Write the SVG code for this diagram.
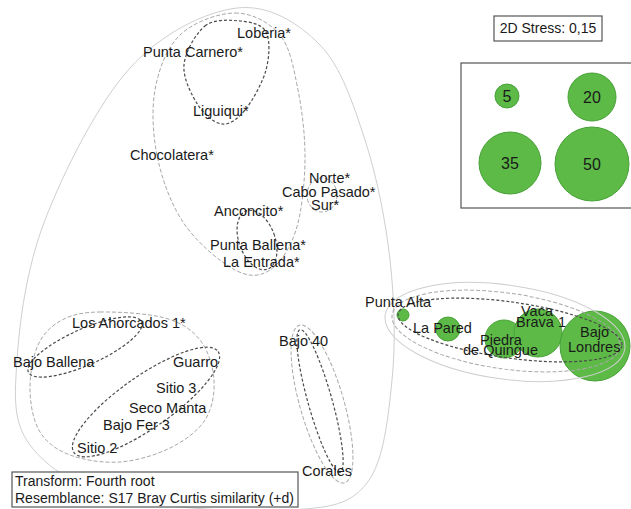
<svg xmlns="http://www.w3.org/2000/svg" width="631" height="509" viewBox="0 0 631 509">
<style>
text{font-family:"Liberation Sans",Arial,sans-serif;font-size:14.5px;fill:#1a1a1a}
.leg{font-size:16px;text-anchor:middle}
.box{font-size:14px}
.solid{fill:none;stroke:#cfcfcf;stroke-width:1}
.light{fill:none;stroke:#a8a8a8;stroke-width:1;stroke-dasharray:4 2}
.dark{fill:none;stroke:#4a4a4a;stroke-width:1.2;stroke-dasharray:3 2}
.bub{fill:#5dba47;stroke:#47a137;stroke-width:1}
.frame{fill:#fff;stroke:#555;stroke-width:1.2}
</style>
<rect width="631" height="509" fill="#fff"/>

<g id="bubbles">
<circle class="bub" cx="403" cy="315" r="6"/>
<circle class="bub" cx="448" cy="329" r="12"/>
<circle class="bub" cx="504" cy="339" r="19"/>
<circle class="bub" cx="538" cy="333" r="24"/>
<circle class="bub" cx="595" cy="346" r="35"/>
</g>

<g id="contours">
<path class="solid" d="M237,8 C268.7,4.2 298.7,23 320,45 C341.3,67 353.3,104.2 365,140 C376.7,175.8 385.5,220 390,260 C394.5,300 395.8,342.8 392,380 C388.2,417.2 384,461.3 367,483 C350,504.7 331.2,507.5 290,510 C248.8,512.5 163.3,508.8 120,498 C76.7,487.2 47.2,468 30,445 C12.8,422 14.5,397.5 17,360 C19.5,322.5 26.2,268.7 45,220 C63.8,171.3 98,103.3 130,68 C162,32.7 205.3,11.8 237,8 Z"/>
<path class="light" d="M235,13 C251.7,13 269.5,22.2 280,35 C290.5,47.8 293.8,69.2 298,90 C302.2,110.8 305.3,136.7 305,160 C304.7,183.3 301.8,211.7 296,230 C290.2,248.3 280.2,263.3 270,270 C259.8,276.7 249.2,277.5 235,270 C220.8,262.5 197.8,243.3 185,225 C172.2,206.7 163,182.5 158,160 C153,137.5 151.3,110.8 155,90 C158.7,69.2 166.7,47.8 180,35 C193.3,22.2 218.3,13 235,13 Z"/>
<path class="dark" d="M205,26 C214.3,18.7 229.8,20 240,21 C250.2,22 261.7,23.8 266,32 C270.3,40.2 269.5,57 266,70 C262.5,83 252.3,101 245,110 C237.7,119 229.8,124.8 222,124 C214.2,123.2 204.3,114.8 198,105 C191.7,95.2 182.8,78.2 184,65 C185.2,51.8 195.7,33.3 205,26 Z"/>
<ellipse class="dark" cx="257" cy="240" rx="18" ry="31" transform="rotate(-20 257 240)"/>
<ellipse class="light" cx="322" cy="195" rx="15" ry="17"/>
<path class="light" d="M100,312 C117.2,311.7 148.3,313.3 165,318 C181.7,322.7 191.8,329.7 200,340 C208.2,350.3 213.2,366.7 214,380 C214.8,393.3 212.3,408.7 205,420 C197.7,431.3 184.2,441 170,448 C155.8,455 136.7,460.8 120,462 C103.3,463.2 83.3,460 70,455 C56.7,450 46.7,442.8 40,432 C33.3,421.2 30.3,404.5 30,390 C29.7,375.5 32.7,356.7 38,345 C43.3,333.3 51.7,325.5 62,320 C72.3,314.5 82.8,312.3 100,312 Z"/>
<ellipse class="dark" cx="85" cy="347" rx="62" ry="18" transform="rotate(-24 85 347)"/>
<ellipse class="dark" cx="146" cy="402" rx="88" ry="26" transform="rotate(-35 146 402)"/>
<ellipse class="light" cx="322" cy="404" rx="82" ry="22" transform="rotate(74 322 404)"/>
<ellipse class="dark" cx="320" cy="401" rx="74" ry="12" transform="rotate(74.3 320 401)"/>
<ellipse class="solid" cx="505" cy="332" rx="121" ry="47" transform="rotate(8 505 332)"/>
<ellipse class="light" cx="506" cy="331" rx="115" ry="38" transform="rotate(8 506 331)"/>
<ellipse class="dark" cx="510" cy="330" rx="113" ry="28" transform="rotate(8 510 330)"/>
</g>

<g id="n-loberia"><text x="237" y="38">Loberia*</text></g>
<g id="n-punta-carnero"><text x="143" y="57">Punta Carnero*</text></g>
<g id="n-liguiqui"><text x="193" y="116">Liguiqui*</text></g>
<g id="n-chocolatera"><text x="130" y="160">Chocolatera*</text></g>
<g id="n-norte"><text x="309" y="183">Norte*</text></g>
<g id="n-cabo-pasado"><text x="282" y="197">Cabo Pasado*</text></g>
<g id="n-sur"><text x="311" y="210">Sur*</text></g>
<g id="n-anconcito"><text x="214" y="216">Anconcito*</text></g>
<g id="n-punta-ballena"><text x="210" y="250">Punta Ballena*</text></g>
<g id="n-la-entrada"><text x="223" y="267">La Entrada*</text></g>
<g id="n-punta-alta"><text x="365" y="307">Punta Alta</text></g>
<g id="n-la-pared"><text x="413" y="333">La Pared</text></g>
<g id="n-vaca-brava"><text x="521" y="316">Vaca</text><text x="516" y="327">Brava 1</text></g>
<g id="n-piedra"><text x="480" y="345">Piedra</text><text x="463" y="355">de Quingue</text></g>
<g id="n-bajo-londres"><text x="580" y="337">Bajo</text><text x="568" y="352">Londres</text></g>
<g id="n-los-ahorcados"><text x="72" y="328">Los Ahorcados 1*</text></g>
<g id="n-bajo-ballena"><text x="13" y="367">Bajo Ballena</text></g>
<g id="n-guarro"><text x="173" y="367">Guarro</text></g>
<g id="n-sitio3"><text x="156" y="393">Sitio 3</text></g>
<g id="n-seco-manta"><text x="129" y="413">Seco Manta</text></g>
<g id="n-bajo-fer3"><text x="103" y="430">Bajo Fer 3</text></g>
<g id="n-sitio2"><text x="77" y="453">Sitio 2</text></g>
<g id="n-bajo40"><text x="279" y="346">Bajo 40</text></g>
<g id="n-corales"><text x="302" y="476">Corales</text></g>

<g id="info-box">
<rect class="frame" x="12" y="472" width="286" height="35"/>
<text class="box" x="15" y="486">Transform: Fourth root</text>
<text class="box" x="15" y="503">Resemblance: S17 Bray Curtis similarity (+d)</text>
</g>

<g id="stress-box">
<rect class="frame" x="494" y="16" width="108" height="25"/>
<text class="box" x="548" y="33" text-anchor="middle">2D Stress: 0,15</text>
</g>

<g id="legend">
<rect class="frame" x="461" y="63" width="180" height="145"/>
<circle class="bub" cx="507" cy="96" r="12"/>
<circle class="bub" cx="592" cy="97" r="24"/>
<circle class="bub" cx="510" cy="163" r="31"/>
<circle class="bub" cx="592" cy="164" r="37"/>
<text class="leg" x="507" y="102">5</text>
<text class="leg" x="592" y="103">20</text>
<text class="leg" x="510" y="169">35</text>
<text class="leg" x="592" y="170">50</text>
</g>
</svg>
